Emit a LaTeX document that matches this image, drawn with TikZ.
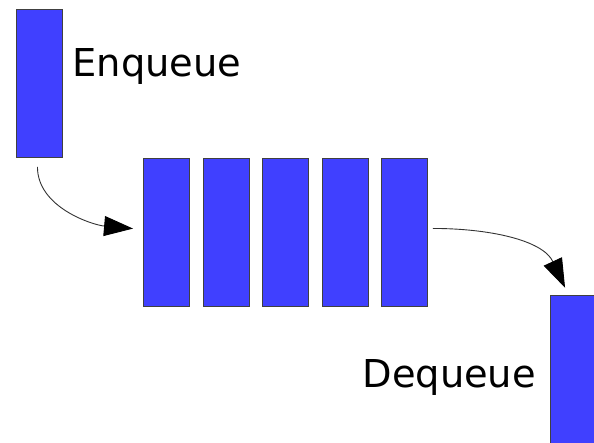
\documentclass[tikz,border=0pt]{standalone}
\usepackage{fontspec}
\setmainfont{DejaVu Sans}
\usetikzlibrary{arrows.meta}
\definecolor{qblue}{HTML}{4040FF}
\tikzset{
  qbox/.style={draw=black!75, line width=0.9pt, fill=qblue, anchor=north west,
    minimum width=46pt, minimum height=148pt, inner sep=0pt},
  qlabel/.style={anchor=base west, inner sep=0pt, font=\fontsize{38.4}{44}\selectfont},
  qarrow/.style={-{Triangle[length=29pt,width=20pt,color=black]}, black!80},
}
\begin{document}
\begin{tikzpicture}[x=1pt, y=-1pt, line width=0.9pt]
            \useasboundingbox (0,0) rectangle (594,443);
            \node[qbox] (In) at (16,9) {};
            \node[qbox] (Q1) at (143,158) {};
            \node[qbox] (Q2) at (203,158) {};
            \node[qbox] (Q3) at (262,158) {};
            \node[qbox] (Q4) at (322,158) {};
            \node[qbox] (Q5) at (381,158) {};
            \node[qbox] (Out) at (550,295) {};
            \node[qlabel] (EnqL) at (72,77) {Enqueue};
            \node[qlabel] (DeqL) at (362,387) {Dequeue};
            \draw[qarrow, shorten <=9pt, shorten >=10pt]
              ([xshift=-2pt]In.south) to[out=-90, in=175] ([yshift=3pt]Q1.west);
            \draw[qarrow, shorten <=5pt, shorten >=8pt]
              ([yshift=4pt]Q5.east) to[out=0, in=115] ([xshift=-5pt]Out.north);
        \end{tikzpicture}
\end{document}
